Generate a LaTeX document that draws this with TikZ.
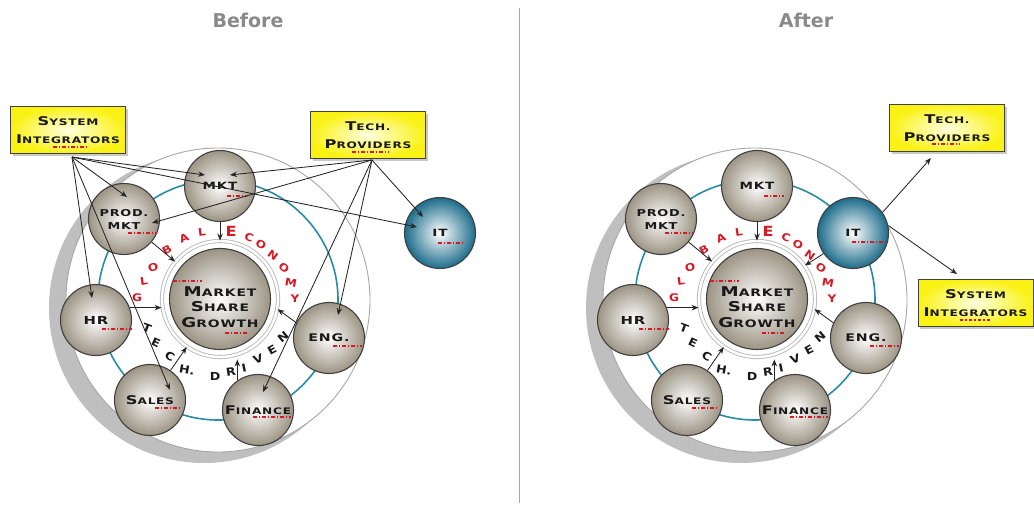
\documentclass[tikz,border=0pt]{standalone}
\usepackage{fontspec}
\usetikzlibrary{arrows.meta,calc,shadows}
\newfontfamily\cpf[FakeStretch=1.35,LetterSpace=8]{DejaVu Sans}
\newfontfamily\arcf[FakeStretch=1.15]{DejaVu Sans}
\newfontfamily\ttlf{DejaVu Sans}
\definecolor{sphc}{RGB}{156,148,132}
\definecolor{itc}{RGB}{28,108,138}
\definecolor{tealc}{RGB}{40,140,165}
\definecolor{ttlc}{RGB}{138,138,138}
\definecolor{redc}{RGB}{215,25,35}
\definecolor{boxin}{RGB}{255,255,225}
\definecolor{boxout}{RGB}{250,242,20}
\newcommand\cpl[4]{{\fontsize{#1}{#1}\selectfont #3}{\fontsize{#2}{#2}\selectfont #4}}

\newcommand\panelbase[1]{%
  \fill[gray!50] (204,308) circle[radius=155pt];
  \draw[gray!70,line width=0.9pt,fill=white] (218,300) circle[radius=152pt];
  \draw[tealc,line width=1.6pt] (218,300) circle[radius=120pt];
  \node[ringst] (#1ring) at (220,299) {};
  \node[sph,minimum size=101pt] (#1msg) at (220,299) {};
  \node[lbl] (#1msgt) at (220,307) {\cpl{13.5}{10.3}{M}{ARKET}\\[3.5pt]\cpl{13.5}{10.3}{S}{HARE}\\[3.5pt]\cpl{13.5}{10.3}{G}{ROWTH}};
  \node[sph] (#1mkt) at (220,186) {\cpl{10}{10}{MKT}{}};
  \node[sph] (#1prod) at (124,219) {\cpl{9.5}{9.5}{PROD.}{}\\[1pt]\cpl{9.5}{9.5}{MKT}{}};
  \node[sph] (#1hr) at (96,320) {\cpl{11}{11}{HR}{}};
  \node[sph] (#1eng) at (329,338) {\cpl{10.5}{10.5}{ENG.}{}};
  \node[sph] (#1sales) at (150,400) {\cpl{12}{9}{S}{ALES}};
  \node[sph] (#1fin) at (258,410) {\cpl{12}{9}{F}{INANCE}};
  \foreach \ch/\xx/\yy/\rr [count=\i] in {G/137/298/0, L/144/281/8, O/153/267/15, B/167/250/30, A/184/238/22, L/202/232/8, C/249/237/-20, O/261/245/-28, N/273/255/-35, O/284/268/-40, M/291/283/-10, Y/295/299/0}
    \node[redl,rotate=\rr] (#1g\i) at (\xx,\yy) {\ch};
  \node[redl,font=\arcf\bfseries\fontsize{14}{14}\selectfont] (#1gE) at (231,231) {E};
  \foreach \ch/\xx/\yy/\rr [count=\i] in {T/147/328/-20, E/156/343/-25, C/170/356/-30, H./187/370/-10, D/215/376/0, R/231/372/8, I/244/368/12, V/258/359/20, E/272/350/28, N/283/337/40}
    \node[blkl,rotate=\rr] (#1t\i) at (\xx,\yy) {\ch};
  \draw[arr] (#1mkt) -- (#1ring);
  \draw[arr] (#1prod) -- (#1ring);
  \draw[arr] (#1hr.20) -- (#1hr.20 -| #1ring.west);
  \draw[arr] (#1sales) -- (#1ring);
  \draw[arr,shorten >=2pt] (#1fin.125) -- (#1fin.125 |- #1ring.south);
  \draw[arr] (#1eng.155) -- (#1ring.-10);
  \foreach \nn/\aa/\bb/\dd in {mkt/7/27/10, prod/4/33/14, msg/-47/-18/-18, msg/5/28/34, hr/6/36/9, eng/4/33/8, sales/5/30/8, fin/-5/33/7}
    \draw[rul] ($(#1\nn)+(\aa,\dd)$) -- ($(#1\nn)+(\bb,\dd)$);
}

\begin{document}
\begin{tikzpicture}[x=1pt,y=-1pt,
  lbl/.style={font=\cpf\bfseries\fontsize{10}{12}\selectfont,align=center,inner sep=0pt,text=black!90},
  sph/.style={circle,draw=black!75,line width=1.1pt,inner color=white,outer color=sphc,minimum size=71pt,inner sep=0pt,font=\cpf\bfseries\fontsize{10}{12}\selectfont,align=center,text=black!90},
  itsph/.style={sph,outer color=itc},
  ringst/.style={circle,minimum size=116pt,draw=gray!55,line width=0.9pt,double=white,double distance=2.4pt,inner sep=0pt},
  ybox/.style={rectangle,draw=black!75,line width=1pt,inner color=boxin,outer color=boxout,minimum width=115pt,minimum height=47pt,inner sep=0pt,font=\cpf\bfseries\fontsize{10}{12}\selectfont,align=center,text=black!90,drop shadow={shadow xshift=2pt,shadow yshift=-2pt,fill=gray!70,opacity=0.6}},
  arr/.style={-{Stealth[length=7pt,width=5.5pt]},black!85,line width=0.85pt},
  rul/.style={redc,line width=1.4pt,dash pattern=on 3.5pt off 2pt on 1.5pt off 2pt},
  redl/.style={font=\arcf\bfseries\fontsize{10.5}{10.5}\selectfont,text=redc,inner sep=0pt},
  blkl/.style={font=\arcf\bfseries\fontsize{11}{11}\selectfont,text=black!90,inner sep=0pt},
  ttl/.style={font=\ttlf\bfseries\fontsize{19}{19}\selectfont,text=ttlc,inner sep=0pt}
]
\useasboundingbox (0,0) rectangle (1034,506);
\fill[white] (0,0) rectangle (1034,506);

% titles and divider
\node[ttl] (tB) at (248,20) {Before};
\node[ttl] (tA) at (806,20) {After};
\draw[gray!70,line width=0.8pt] (519,8) -- (519,503);

% ---------- left panel ----------
\begin{scope}
  \panelbase{L}
\end{scope}
\node[itsph] (Lit) at (440,233) {\cpl{10}{10}{IT}{}};
\node[ybox] (Lsi) at (68,130) {\cpl{12}{9}{S}{YSTEM}\\[6pt]\cpl{12}{9}{I}{NTEGRATORS}};
\node[ybox] (Ltp) at (368,135) {\cpl{12}{9}{T}{ECH.}\\[6pt]\cpl{12}{9}{P}{ROVIDERS}};
\foreach \nn/\aa/\bb/\dd in {Lsi/-15/20/17, Ltp/-16/21/17, Lit/-2/22/10}
  \draw[rul] ($(\nn)+(\aa,\dd)$) -- ($(\nn)+(\bb,\dd)$);
\coordinate (LsiO) at (72,157);
\coordinate (LtpO) at (372,160);
\draw[arr] (LsiO) -- ($(Lmkt)+(-15,-11)$);
\draw[arr] (LsiO) -- ($(Lprod)+(3,-22)$);
\draw[arr] (LsiO) -- ($(Lhr)+(-4,-22)$);
\draw[arr] (LsiO) -- ($(Lsales)+(20,-10)$);
\draw[arr] (LsiO) -- ($(Lit)+(-23,-6)$);
\draw[arr] (LtpO) -- ($(Lmkt)+(10,-11)$);
\draw[arr] (LtpO) -- ($(Lprod)+(28,4)$);
\draw[arr] (LtpO) -- ($(Lit)+(-17,-16)$);
\draw[arr] (LtpO) -- ($(Leng)+(9,-23)$);
\draw[arr] (LtpO) -- ($(Lfin)+(5,-18)$);

% ---------- right panel ----------
\begin{scope}[xshift=537pt]
  \panelbase{R}
  \node[itsph] (Rit) at (316,233) {\cpl{10}{10}{IT}{}};
\end{scope}
\node[ybox] (Rtp) at (947,128) {\cpl{12}{9}{T}{ECH.}\\[6pt]\cpl{12}{9}{P}{ROVIDERS}};
\node[ybox] (Rsi) at (975.5,303) {\cpl{12}{9}{S}{YSTEM}\\[6pt]\cpl{12}{9}{I}{NTEGRATORS}};
\foreach \nn/\aa/\bb/\dd in {Rsi/-16/16/17, Rtp/-15/13/16, Rit/-1/35/9}
  \draw[rul] ($(\nn)+(\aa,\dd)$) -- ($(\nn)+(\bb,\dd)$);
\coordinate (RtpIn) at (931,158);
\coordinate (RsiIn) at (957,274);
\draw[arr] (Rit.35) -- (RtpIn);
\draw[arr] (Rit.12) -- (RsiIn);
\draw[arr] (Rit.215) -- (Rring.35);
\end{tikzpicture}
\end{document}
